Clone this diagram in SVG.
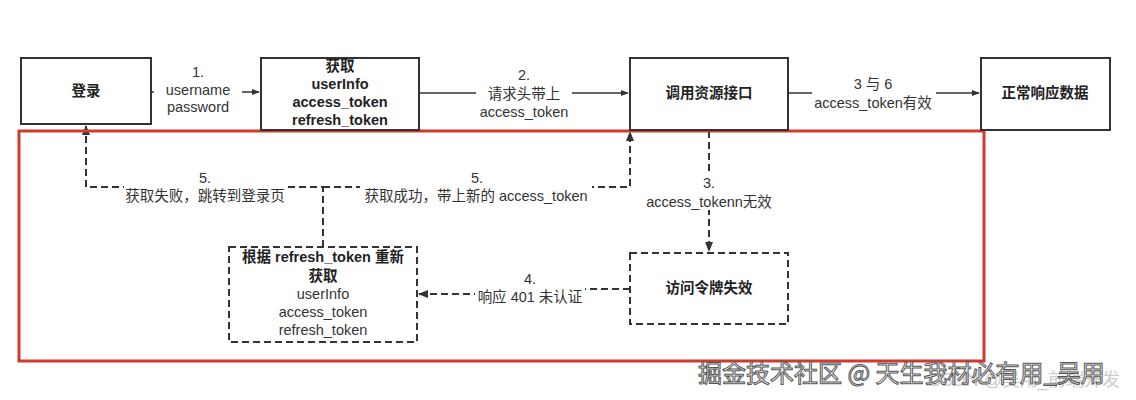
<svg xmlns="http://www.w3.org/2000/svg" width="1136" height="400" viewBox="0 0 1136 400">
<style>
.box{fill:#fff;stroke:#333;stroke-width:2}
.dbox{fill:#fff;stroke:#333;stroke-width:2;stroke-dasharray:7 4}
.bt{font-family:"Liberation Sans","Noto Sans CJK SC",sans-serif;font-size:14.5px;font-weight:bold;fill:#222;text-anchor:middle}
.lt{font-family:"Liberation Sans","Noto Sans CJK SC",sans-serif;font-size:14.5px;fill:#333;text-anchor:middle}
.ln{fill:none;stroke:#333;stroke-width:1.3}
.dl{fill:none;stroke:#333;stroke-width:2;stroke-dasharray:7 4}
.wm{font-family:"Noto Sans CJK SC",sans-serif;font-size:24px;fill:#fff;stroke:#555;stroke-width:1}
</style>
<defs>
<marker id="ah" viewBox="0 0 10 10" refX="9" refY="5" markerWidth="8" markerHeight="8" markerUnits="userSpaceOnUse" orient="auto"><path d="M0,1 L10,5 L0,9 z" fill="#333"/></marker>
<marker id="ah2" viewBox="0 0 10 10" refX="9" refY="5" markerWidth="10" markerHeight="10" markerUnits="userSpaceOnUse" orient="auto"><path d="M0,1 L10,5 L0,9 z" fill="#333"/></marker>
</defs>
<rect x="0" y="0" width="1136" height="400" fill="#fff"/>
<g id="connectors">
<path class="ln" d="M151,92 H259" marker-end="url(#ah)"/>
<path class="ln" d="M420,93 H628" marker-end="url(#ah)"/>
<path class="ln" d="M788,93 H979" marker-end="url(#ah)"/>
<path class="dl" d="M709,131 V251" marker-end="url(#ah2)"/>
<path class="dl" d="M630,289 H530 V294 H419" marker-end="url(#ah2)"/>
<path class="dl" d="M323,247 V187 H86 V126" marker-end="url(#ah2)"/>
<path class="dl" d="M323,187 H630 V132" marker-end="url(#ah2)"/>
<g>
<rect x="154" y="64" width="88" height="50" fill="#fff"/>
<text class="lt" x="198" y="77">1.</text>
<text class="lt" x="198" y="95">username</text>
<text class="lt" x="198" y="112">password</text>
</g>
<g>
<rect x="476" y="66" width="96" height="54" fill="#fff"/>
<text class="lt" x="524" y="80">2.</text>
<text class="lt" x="524" y="99">请求头带上</text>
<text class="lt" x="524" y="117">access_token</text>
</g>
<g>
<rect x="812" y="74" width="124" height="38" fill="#fff"/>
<text class="lt" x="873" y="89">3 与 6</text>
<text class="lt" x="873" y="108">access_token有效</text>
</g>
<g>
<rect x="643" y="172" width="132" height="38" fill="#fff"/>
<text class="lt" x="709" y="188">3.</text>
<text class="lt" x="709" y="207">access_tokenn无效</text>
</g>
<g>
<rect x="475" y="270" width="110" height="36" fill="#fff"/>
<text class="lt" x="530" y="284">4.</text>
<text class="lt" x="530" y="302">响应 401 未认证</text>
</g>
<g>
<rect x="124" y="170" width="162" height="36" fill="#fff"/>
<text class="lt" x="205" y="183">5.</text>
<text class="lt" x="205" y="201">获取失败，跳转到登录页</text>
</g>
<g>
<rect x="360" y="170" width="232" height="36" fill="#fff"/>
<text class="lt" x="477" y="183">5.</text>
<text class="lt" x="476" y="201">获取成功，带上新的 access_token</text>
</g>
</g>
<rect x="19" y="131" width="965" height="230" fill="none" stroke="#d23a2c" stroke-width="3"/>
<g id="login">
<rect class="box" x="21" y="58" width="130" height="66"/>
<text class="bt" x="86" y="96">登录</text>
</g>
<g id="fetch">
<rect class="box" x="261" y="58" width="158" height="72"/>
<text class="bt" x="340" y="71">获取</text>
<text class="bt" x="340" y="89">userInfo</text>
<text class="bt" x="340" y="107">access_token</text>
<text class="bt" x="340" y="125">refresh_token</text>
</g>
<g id="call">
<rect class="box" x="630" y="58" width="158" height="72"/>
<text class="bt" x="709" y="98">调用资源接口</text>
</g>
<g id="normal">
<rect class="box" x="981" y="58" width="129" height="72"/>
<text class="bt" x="1045" y="98">正常响应数据</text>
</g>
<g id="invalid">
<rect class="dbox" x="630" y="253" width="158" height="71"/>
<text class="bt" x="709" y="293">访问令牌失效</text>
</g>
<g id="refresh">
<rect class="dbox" x="229" y="247" width="188" height="95"/>
<text class="bt" x="323" y="262">根据 refresh_token 重新</text>
<text class="bt" x="323" y="281">获取</text>
<text class="lt" x="323" y="299">userInfo</text>
<text class="lt" x="323" y="317">access_token</text>
<text class="lt" x="323" y="335">refresh_token</text>
</g>
<text x="1120" y="386" text-anchor="end" font-family="Liberation Sans,Noto Sans CJK SC,sans-serif" font-size="18" fill="#ccc">CSDN @吴用_前端开发</text>
<text class="wm" x="698" y="382">掘金技术社区 @ 天生我材必有用_吴用</text>
</svg>
